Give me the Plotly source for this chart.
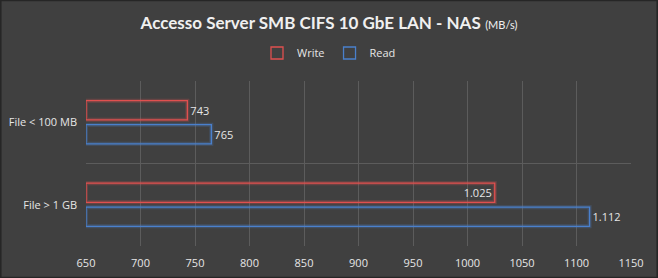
import plotly.graph_objects as go

categories = ["File < 100 MB", "File > 1 GB"]
write_vals = [743, 1025]
read_vals = [765, 1112]
series_names = ["Write", "Read"]
x_ticks = list(range(650, 1151, 50))

def it_fmt(v):
    return f"{v:,}".replace(",", ".")

W, H = 658, 278
ML, MR, MT, MB = 86, 27, 81, 32
BG = "#404040"
TXT = "#e6e6e6"
GRID = "#5c5c5c"
RED = "#e0504f"
BLUE = "#4a80cc"
AXMIN = x_ticks[0]

fig = go.Figure()

def add_series(name, vals, color, glow, positions):
    lengths = [v - AXMIN for v in vals]
    fig.add_trace(go.Bar(
        y=categories, x=lengths, base=AXMIN, orientation="h",
        marker=dict(color="rgba(0,0,0,0)", line=dict(color=glow, width=4)),
        offsetgroup=name, showlegend=False, hoverinfo="skip",
    ))
    fig.add_trace(go.Bar(
        y=categories, x=lengths, base=AXMIN, orientation="h", name=name, offsetgroup=name,
        marker=dict(color="rgba(0,0,0,0)", line=dict(color=color, width=1.3)),
        text=[it_fmt(v) for v in vals], textposition=positions,
        insidetextanchor="end",
        textfont=dict(color=TXT, size=11, family="Open Sans, sans-serif"),
        insidetextfont=dict(color=TXT, size=11),
        outsidetextfont=dict(color=TXT, size=11),
        cliponaxis=False, constraintext="none",
    ))

add_series(series_names[0], write_vals, RED, "rgba(224,80,79,0.25)", ["outside", "inside"])
add_series(series_names[1], read_vals, BLUE, "rgba(74,128,204,0.25)", ["outside", "outside"])

fig.update_layout(
    width=W, height=H,
    margin=dict(l=ML, r=MR, t=MT, b=MB, autoexpand=False),
    paper_bgcolor=BG, plot_bgcolor=BG,
    barmode="group", bargap=0.42, bargroupgap=0.2,
    font=dict(family="Open Sans, sans-serif", color=TXT, size=11),
    title=dict(
        text="<b>Accesso Server SMB CIFS 10 GbE LAN - NAS</b> <span style='font-size:11px'>(MB/s)</span>",
        x=0.5, xref="container", xanchor="center", y=1 - 23 / H, yanchor="middle",
        font=dict(family="Lato, sans-serif", size=17, color="#f0f0f0"),
    ),
    legend=dict(
        orientation="h", x=0.5, xanchor="center", xref="container",
        y=1 + (MT - 53) / (H - MT - MB), yanchor="middle",
        font=dict(size=11, color=TXT), bgcolor="rgba(0,0,0,0)",
        itemwidth=30, traceorder="normal",
    ),
    xaxis=dict(
        range=[x_ticks[0], x_ticks[-1]], tickvals=x_ticks,
        showgrid=True, gridcolor=GRID, gridwidth=1, zeroline=False,
        showline=False, ticks="", tickfont=dict(size=11, color=TXT),
        ticklabelstandoff=9, automargin=False,
    ),
    yaxis=dict(
        type="category", autorange="reversed", tickson="boundaries",
        showgrid=True, gridcolor=GRID, gridwidth=1, zeroline=False,
        showline=False, ticks="", ticklen=0, tickfont=dict(size=11, color=TXT),
        ticklabelstandoff=8, automargin=False,
    ),
    shapes=[dict(
        type="rect", xref="paper", yref="paper",
        x0=-ML / (W - ML - MR) + 0.001, x1=1 + MR / (W - ML - MR) - 0.001,
        y0=-MB / (H - MT - MB) + 0.002, y1=1 + MT / (H - MT - MB) - 0.002,
        line=dict(color="#262626", width=2), layer="above",
    )],
)

fig.write_html("out.html")
